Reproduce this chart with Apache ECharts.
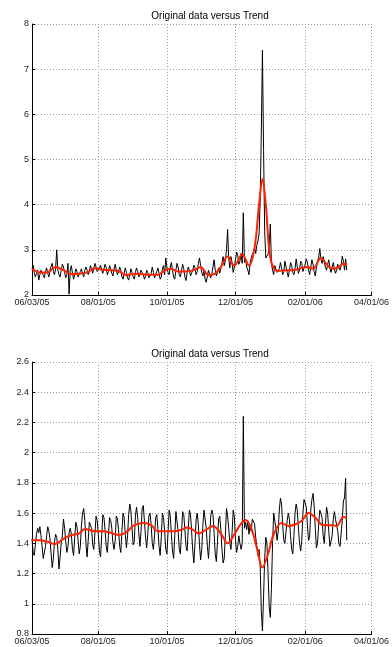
<!DOCTYPE html>
<html><head><meta charset="utf-8">
<script src="https://cdn.jsdelivr.net/npm/echarts@6/dist/echarts.min.js"></script>
<style>html,body{margin:0;padding:0;background:#fff}#c{width:392px;height:647px}</style>
</head><body><div id="c"></div>
<script>
// ---- data ----
const titleText = 'Original data versus Trend';
const startDate = [2005, 5, 3]; // 06/03/05
const dayCount = 303;           // through 04/01/06
const tickLabels = ['06/03/05', '08/01/05', '10/01/05', '12/01/05', '02/01/06', '04/01/06'];

// top panel: daily original values from 06/03/05
const topOriginal = [
  2.58, 2.66, 2.50, 2.40, 2.48, 2.55, 2.33,
  2.45, 2.55, 2.52, 2.44, 2.38, 2.52, 2.60,
  2.48, 2.40, 2.55, 2.63, 2.70, 2.52, 2.45,
  2.58, 3.00, 2.55, 2.45, 2.40, 2.55, 2.68,
  2.62, 2.50, 2.38, 2.45, 2.70, 2.02, 2.55,
  2.65, 2.48, 2.35, 2.45, 2.58, 2.52, 2.40,
  2.38, 2.52, 2.58, 2.46, 2.40, 2.55, 2.62,
  2.55, 2.45, 2.52, 2.65, 2.58, 2.48, 2.60,
  2.70, 2.62, 2.52, 2.48, 2.60, 2.66, 2.55,
  2.48, 2.58, 2.68, 2.60, 2.45, 2.52, 2.65,
  2.58, 2.48, 2.42, 2.58, 2.68, 2.55, 2.45,
  2.52, 2.62, 2.55, 2.40, 2.35, 2.48, 2.60,
  2.50, 2.38, 2.33, 2.45, 2.58, 2.50, 2.40,
  2.35, 2.50, 2.60, 2.52, 2.40, 2.36, 2.55,
  2.58, 2.45, 2.35, 2.42, 2.55, 2.50, 2.38,
  2.36, 2.48, 2.62, 2.50, 2.38, 2.35, 2.52,
  2.60, 2.48, 2.35, 2.40, 2.58, 2.65, 2.45,
  2.82, 2.60, 2.50, 2.45, 2.62, 2.72, 2.55,
  2.40, 2.35, 2.55, 2.70, 2.62, 2.45, 2.40,
  2.55, 2.68, 2.58, 2.40, 2.32, 2.50, 2.62,
  2.55, 2.42, 2.38, 2.55, 2.66, 2.60, 2.45,
  2.52, 2.70, 2.82, 2.65, 2.50, 2.42, 2.55,
  2.35, 2.28, 2.42, 2.55, 2.45, 2.38, 2.48,
  2.62, 2.78, 2.55, 2.42, 2.50, 2.60, 2.48,
  2.52, 2.70, 2.85, 2.65, 2.75, 3.00, 3.45,
  2.80, 2.60, 2.85, 2.70, 2.50, 2.62, 2.78,
  2.95, 2.88, 2.68, 2.75, 2.92, 2.70, 3.82,
  2.72, 2.80, 2.62, 2.55, 2.45, 2.70, 2.82,
  2.90, 2.95, 3.05, 2.92, 3.10, 3.20, 3.35,
  4.10, 5.60, 7.42, 5.20, 3.40, 2.82, 2.85,
  2.90, 3.10, 3.57, 2.70, 2.55, 2.45, 2.65,
  2.62, 2.50, 2.48, 2.58, 2.72, 2.60, 2.45,
  2.52, 2.75, 2.62, 2.50, 2.40, 2.55, 2.72,
  2.65, 2.50, 2.45, 2.58, 2.80, 2.62, 2.48,
  2.55, 2.75, 2.70, 2.52, 2.50, 2.68, 2.80,
  2.72, 2.55, 2.45, 2.62, 2.78, 2.68, 2.52,
  2.42, 2.60, 2.75, 2.82, 3.03, 2.80, 2.70,
  2.85, 2.72, 2.62, 2.55, 2.68, 2.78, 2.60,
  2.50, 2.62, 2.72, 2.58, 2.48, 2.55, 2.68,
  2.60, 2.55, 2.65, 2.86, 2.75, 2.55, 2.80,
  2.55
];
// top panel trend: [day index, value]
const topTrend = [
  [0,2.58],[7,2.50],[14,2.50],[21,2.62],[28,2.55],[35,2.46],[42,2.47],[49,2.50],
  [56,2.59],[63,2.56],[70,2.55],[77,2.53],[84,2.44],[91,2.47],[98,2.46],[105,2.45],
  [112,2.45],[118,2.54],[123,2.58],[130,2.52],[137,2.52],[144,2.55],[150,2.62],
  [157,2.44],[163,2.48],[168,2.62],[174,2.85],[180,2.65],[187,2.90],[193,2.65],
  [198,3.05],[202,4.0],[205,4.57],[208,4.0],[211,3.0],[214,2.65],[219,2.53],
  [226,2.55],[233,2.55],[240,2.60],[245,2.62],[250,2.58],[257,2.82],[263,2.65],
  [268,2.58],[273,2.62],[277,2.70],[280,2.65]
];

// bottom panel: daily original values from 06/03/05
const bottomOriginal = [
  1.43, 1.34, 1.32, 1.39, 1.46, 1.50, 1.47,
  1.51, 1.45, 1.38, 1.30, 1.29, 1.38, 1.45,
  1.51, 1.48, 1.43, 1.33, 1.24, 1.30, 1.41,
  1.46, 1.44, 1.36, 1.23, 1.31, 1.40, 1.45,
  1.56, 1.50, 1.41, 1.34, 1.38, 1.47, 1.50,
  1.46, 1.36, 1.32, 1.44, 1.54, 1.51, 1.42,
  1.33, 1.38, 1.52, 1.60, 1.63, 1.55, 1.40,
  1.31, 1.42, 1.54, 1.53, 1.50, 1.39, 1.36,
  1.47, 1.58, 1.55, 1.46, 1.35, 1.31, 1.45,
  1.59, 1.57, 1.49, 1.38, 1.34, 1.45, 1.57,
  1.55, 1.50, 1.40, 1.36, 1.42, 1.58, 1.56,
  1.49, 1.38, 1.34, 1.48, 1.60, 1.57, 1.46,
  1.37, 1.45, 1.59, 1.66, 1.61, 1.50, 1.39,
  1.41, 1.58, 1.64, 1.57, 1.47, 1.38, 1.48,
  1.63, 1.65, 1.55, 1.44, 1.37, 1.46, 1.58,
  1.60, 1.52, 1.40, 1.36, 1.45, 1.57, 1.59,
  1.50, 1.38, 1.32, 1.44, 1.60, 1.57, 1.48,
  1.36, 1.33, 1.47, 1.62, 1.58, 1.46, 1.35,
  1.30, 1.45, 1.61, 1.60, 1.48, 1.36, 1.33,
  1.47, 1.61, 1.59, 1.49, 1.38, 1.35, 1.50,
  1.62, 1.59, 1.48, 1.35, 1.27, 1.40, 1.56,
  1.60, 1.52, 1.39, 1.29, 1.36, 1.52, 1.62,
  1.61, 1.50, 1.38, 1.30, 1.42, 1.58, 1.62,
  1.59, 1.47, 1.33, 1.28, 1.41, 1.56, 1.58,
  1.49, 1.36, 1.27, 1.30, 1.45, 1.63, 1.58,
  1.50, 1.40, 1.36, 1.47, 1.62, 1.58, 1.42,
  1.34, 1.38, 1.45, 1.40, 1.36, 1.40, 2.24,
  1.50, 1.54, 1.49, 1.55, 1.46, 1.52, 1.48,
  1.56, 1.57, 1.53, 1.44, 1.38, 1.32, 1.36,
  1.25, 0.95, 0.82, 1.05, 1.30, 1.44, 1.40,
  1.20, 0.98, 0.91, 1.10, 1.40, 1.60, 1.59,
  1.50, 1.42, 1.48, 1.62, 1.70, 1.66, 1.52,
  1.42, 1.40, 1.48, 1.55, 1.60, 1.56, 1.45,
  1.36, 1.33, 1.45, 1.60, 1.66, 1.62, 1.50,
  1.40, 1.35, 1.42, 1.60, 1.69, 1.68, 1.64,
  1.52, 1.42, 1.44, 1.62, 1.69, 1.73, 1.65,
  1.50, 1.37, 1.40, 1.52, 1.62, 1.60, 1.57,
  1.45, 1.40, 1.52, 1.64, 1.60, 1.48, 1.38,
  1.37, 1.45, 1.56, 1.61, 1.56, 1.55, 1.48,
  1.40, 1.38, 1.39, 1.55, 1.68, 1.70, 1.83,
  1.42
];
// bottom panel trend: [day index, value]
const bottomTrend = [
  [0,1.42],[7,1.42],[14,1.41],[20,1.395],[28,1.43],[35,1.455],[42,1.465],[47,1.495],
  [56,1.48],[63,1.48],[70,1.47],[77,1.455],[84,1.475],[91,1.52],[100,1.535],[106,1.52],
  [112,1.48],[119,1.48],[126,1.48],[133,1.49],[138,1.505],[143,1.49],[148,1.465],
  [155,1.49],[161,1.515],[168,1.465],[174,1.40],[180,1.46],[186,1.53],[190,1.555],
  [195,1.50],[200,1.37],[205,1.24],[210,1.33],[215,1.46],[222,1.535],[228,1.515],
  [234,1.525],[240,1.55],[246,1.60],[252,1.57],[259,1.52],[266,1.52],[271,1.515],
  [277,1.575],[280,1.57]
];
const topRange = {min: 2, max: 8, interval: 1};
const bottomRange = {min: 0.8, max: 2.6, interval: 0.2};

// ---- build ----
function pad(n){ return (n < 10 ? '0' : '') + n; }
const categories = [];
for (let i = 0; i < dayCount; i++) {
  const d = new Date(Date.UTC(startDate[0], startDate[1], startDate[2] + i));
  categories.push(pad(d.getUTCMonth() + 1) + '/' + pad(d.getUTCDate()) + '/' + pad(d.getUTCFullYear() % 100));
}
const isTick = (idx, val) => tickLabels.indexOf(val) >= 0;
const FONT = 'Liberation Sans, Arial, Helvetica, sans-serif';
const dotted = {color: '#9a9a9a', width: 1, type: [1, 2]};

function xAxis(gi){
  return {
    type: 'category', gridIndex: gi, data: categories, boundaryGap: false,
    axisLine: {show: true, lineStyle: {color: '#000', width: 1}},
    axisTick: {show: true, inside: true, length: 3, interval: isTick, lineStyle: {color: '#000'}},
    axisLabel: {interval: isTick, color: '#222', fontSize: 9, fontFamily: FONT, margin: 3},
    splitLine: {show: true, interval: isTick, lineStyle: dotted}
  };
}
function yAxis(gi, r){
  return {
    type: 'value', gridIndex: gi, min: r.min, max: r.max, interval: r.interval,
    axisLine: {show: true, onZero: false, lineStyle: {color: '#000', width: 1}},
    axisTick: {show: true, inside: true, length: 3, lineStyle: {color: '#000'}},
    axisLabel: {color: '#222', fontSize: 9, fontFamily: FONT, margin: 3},
    splitLine: {show: true, lineStyle: dotted}
  };
}
const titleStyle = {fontSize: 10, fontWeight: 'normal', color: '#000', fontFamily: FONT};

const chart = echarts.init(document.getElementById('c'), null, {renderer: 'canvas'});
chart.setOption({
  animation: false,
  backgroundColor: '#fff',
  title: [
    {text: titleText, left: 205, top: 6, textAlign: 'center', textStyle: titleStyle},
    {text: titleText, left: 205, top: 344, textAlign: 'center', textStyle: titleStyle}
  ],
  grid: [
    {left: 32, width: 346, top: 24, height: 271},
    {left: 32, width: 346, top: 362, height: 272}
  ],
  xAxis: [xAxis(0), xAxis(1)],
  yAxis: [yAxis(0, topRange), yAxis(1, bottomRange)],
  series: [
    {type: 'line', xAxisIndex: 0, yAxisIndex: 0, data: topOriginal, showSymbol: false,
     lineStyle: {color: '#000', width: 1}, z: 2},
    {type: 'line', xAxisIndex: 0, yAxisIndex: 0, data: topTrend, showSymbol: false, smooth: 0.35,
     lineStyle: {color: '#ff2200', width: 2}, z: 3},
    {type: 'line', xAxisIndex: 1, yAxisIndex: 1, data: bottomOriginal, showSymbol: false,
     lineStyle: {color: '#000', width: 1}, z: 2},
    {type: 'line', xAxisIndex: 1, yAxisIndex: 1, data: bottomTrend, showSymbol: false, smooth: 0.35,
     lineStyle: {color: '#ff2200', width: 2}, z: 3}
  ]
});
</script></body></html>
